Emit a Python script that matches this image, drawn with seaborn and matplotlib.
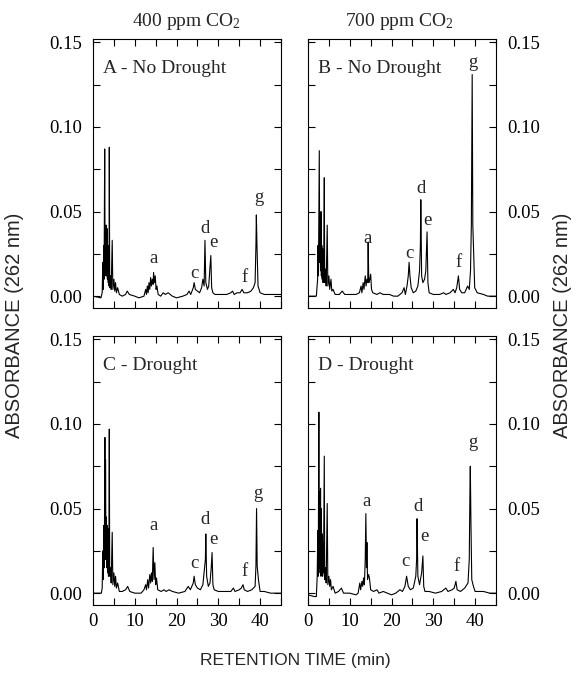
import numpy as np
import pandas as pd
import matplotlib
matplotlib.use("Agg")
import matplotlib.pyplot as plt
import seaborn as sns
from matplotlib.ticker import MultipleLocator

# Chromatogram traces: (retention time in min, absorbance at 262 nm)
trace_a = [
    (0.0, 0.000), (1.9, -0.001), (2.2, 0.002), (2.35, 0.020), (2.45, 0.004), (2.55, 0.030),
    (2.65, 0.010), (2.8, 0.087), (2.9, 0.012), (3.0, 0.040), (3.05, 0.015), (3.15, 0.042),
    (3.25, 0.012), (3.35, 0.040), (3.45, 0.010), (3.55, 0.030), (3.65, 0.008), (3.75, 0.025),
    (3.85, 0.006), (3.9, 0.088), (4.0, 0.005), (4.2, 0.012), (4.35, 0.004), (4.6, 0.033),
    (4.75, 0.004), (5.0, 0.010), (5.2, 0.003), (5.4, 0.008), (5.6, 0.002), (5.9, 0.005),
    (6.3, 0.001), (7.0, 0.000), (7.8, 0.001), (8.2, 0.003), (8.7, 0.001), (10.0, 0.000),
    (11.0, -0.001), (12.2, 0.000), (12.6, 0.004), (12.8, 0.001), (13.0, 0.006), (13.2, 0.002),
    (13.4, 0.008), (13.6, 0.004), (13.8, 0.011), (14.0, 0.006), (14.2, 0.010), (14.4, 0.007),
    (14.5, 0.014), (14.7, 0.008), (14.9, 0.012), (15.1, 0.004), (15.3, 0.006), (15.6, 0.001),
    (16.2, 0.000), (16.8, 0.002), (17.3, 0.001), (18.0, 0.002), (19.0, 0.000), (20.0, -0.001),
    (21.5, 0.000), (22.5, 0.001), (23.0, 0.003), (23.4, 0.001), (24.0, 0.005), (24.2, 0.008),
    (24.5, 0.004), (25.0, 0.003), (25.5, 0.002), (26.0, 0.005), (26.3, 0.010), (26.6, 0.006),
    (26.8, 0.033), (27.0, 0.008), (27.4, 0.004), (27.7, 0.006), (28.0, 0.017), (28.2, 0.024),
    (28.4, 0.005), (28.7, 0.002), (29.2, 0.001), (30.5, 0.001), (32.0, 0.001), (33.0, 0.002),
    (33.4, 0.003), (33.8, 0.001), (34.5, 0.002), (35.2, 0.002), (35.7, 0.004), (36.1, 0.002),
    (37.0, 0.002), (37.8, 0.003), (38.4, 0.005), (38.8, 0.008), (39.0, 0.030), (39.1, 0.048),
    (39.25, 0.030), (39.5, 0.006), (40.0, 0.002), (41.0, 0.001), (43.0, 0.001), (45.0, 0.001),
]

trace_b = [
    (0.0, 0.000), (2.0, 0.000), (2.3, 0.010), (2.4, 0.030), (2.5, 0.012), (2.7, 0.086),
    (2.8, 0.020), (2.9, 0.048), (3.0, 0.015), (3.1, 0.050), (3.2, 0.012), (3.3, 0.030),
    (3.4, 0.010), (3.5, 0.028), (3.6, 0.008), (3.75, 0.015), (3.9, 0.070), (4.0, 0.008),
    (4.2, 0.016), (4.35, 0.006), (4.6, 0.042), (4.75, 0.006), (5.0, 0.012), (5.2, 0.004),
    (5.5, 0.010), (5.7, 0.003), (6.0, 0.004), (6.5, 0.001), (7.5, 0.001), (8.2, 0.003),
    (8.8, 0.001), (10.0, 0.001), (11.5, 0.001), (12.3, 0.002), (12.7, 0.006), (12.9, 0.002),
    (13.2, 0.008), (13.4, 0.004), (13.7, 0.012), (13.9, 0.006), (14.1, 0.010), (14.3, 0.008),
    (14.4, 0.032), (14.55, 0.008), (14.8, 0.010), (15.0, 0.013), (15.2, 0.004), (15.5, 0.002),
    (16.5, 0.001), (17.2, 0.002), (18.0, 0.001), (19.5, 0.001), (20.5, 0.000), (21.5, 0.000),
    (22.5, 0.002), (23.0, 0.005), (23.3, 0.001), (23.7, 0.006), (24.0, 0.012), (24.2, 0.020),
    (24.4, 0.012), (24.7, 0.005), (25.2, 0.002), (25.8, 0.003), (26.3, 0.006), (26.7, 0.015),
    (26.9, 0.030), (27.0, 0.057), (27.2, 0.012), (27.5, 0.008), (27.9, 0.010), (28.2, 0.015),
    (28.5, 0.038), (28.7, 0.008), (29.0, 0.002), (30.0, 0.001), (31.5, 0.001), (32.5, 0.002),
    (33.0, 0.001), (34.0, 0.002), (34.8, 0.004), (35.2, 0.002), (35.6, 0.005), (36.0, 0.012),
    (36.3, 0.004), (36.8, 0.002), (37.5, 0.002), (38.2, 0.006), (38.6, 0.004), (38.9, 0.015),
    (39.1, 0.042), (39.3, 0.131), (39.45, 0.042), (39.6, 0.030), (39.9, 0.005), (40.5, 0.002),
    (42.0, 0.001), (43.0, 0.000), (45.0, 0.000),
]

trace_c = [
    (0.0, 0.000), (2.0, 0.000), (2.2, 0.003), (2.35, 0.025), (2.45, 0.008), (2.6, 0.040),
    (2.7, 0.015), (2.85, 0.092), (2.95, 0.020), (3.0, 0.079), (3.1, 0.020), (3.2, 0.045),
    (3.3, 0.015), (3.4, 0.040), (3.5, 0.012), (3.6, 0.038), (3.7, 0.010), (3.8, 0.020),
    (3.9, 0.097), (4.0, 0.010), (4.2, 0.015), (4.35, 0.006), (4.6, 0.036), (4.75, 0.005),
    (5.0, 0.012), (5.2, 0.004), (5.4, 0.010), (5.6, 0.003), (5.9, 0.006), (6.3, 0.001),
    (7.0, 0.001), (7.8, 0.002), (8.3, 0.004), (8.8, 0.001), (10.0, 0.000), (11.5, 0.000),
    (12.2, 0.002), (12.6, 0.005), (12.8, 0.002), (13.1, 0.008), (13.3, 0.003), (13.6, 0.011),
    (13.8, 0.006), (14.0, 0.012), (14.2, 0.007), (14.4, 0.027), (14.6, 0.008), (14.8, 0.018),
    (15.0, 0.005), (15.2, 0.009), (15.5, 0.002), (16.3, 0.001), (17.0, 0.002), (17.5, 0.001),
    (18.2, 0.002), (19.0, 0.001), (20.5, 0.000), (22.0, 0.001), (22.8, 0.004), (23.3, 0.002),
    (24.0, 0.006), (24.2, 0.010), (24.5, 0.005), (25.0, 0.003), (25.7, 0.002), (26.3, 0.005),
    (26.7, 0.015), (26.9, 0.020), (27.0, 0.035), (27.2, 0.010), (27.6, 0.004), (28.0, 0.006),
    (28.3, 0.015), (28.5, 0.024), (28.7, 0.005), (29.0, 0.002), (30.0, 0.001), (31.5, 0.001),
    (33.0, 0.001), (33.6, 0.003), (34.0, 0.001), (35.0, 0.002), (35.5, 0.003), (35.9, 0.005),
    (36.2, 0.002), (37.0, 0.001), (38.0, 0.002), (38.8, 0.004), (39.0, 0.016), (39.15, 0.050),
    (39.3, 0.016), (39.6, 0.008), (40.0, 0.001), (41.0, 0.001), (42.5, 0.000), (45.0, 0.000),
]

trace_d = [
    (0.0, -0.001), (1.5, -0.002), (2.0, -0.002), (2.2, 0.010), (2.35, 0.037), (2.45, 0.010),
    (2.6, 0.107), (2.7, 0.015), (2.8, 0.060), (2.9, 0.012), (3.0, 0.062), (3.1, 0.010),
    (3.2, 0.050), (3.3, 0.012), (3.4, 0.035), (3.5, 0.010), (3.6, 0.030), (3.7, 0.012),
    (3.9, 0.081), (4.0, 0.008), (4.2, 0.015), (4.35, 0.006), (4.6, 0.053), (4.75, 0.005),
    (5.0, 0.010), (5.2, 0.004), (5.4, 0.008), (5.6, 0.002), (6.0, 0.004), (6.5, 0.000),
    (7.3, 0.001), (8.0, 0.003), (8.5, 0.000), (10.0, 0.000), (11.5, -0.001), (12.0, 0.000),
    (12.4, 0.006), (12.6, 0.002), (12.9, 0.007), (13.1, 0.004), (13.3, 0.009), (13.5, 0.005),
    (13.7, 0.020), (13.85, 0.047), (14.0, 0.015), (14.1, 0.030), (14.25, 0.008), (14.5, 0.011),
    (14.7, 0.009), (15.0, 0.002), (15.7, 0.001), (16.5, 0.002), (17.0, 0.000), (18.0, 0.001),
    (19.0, 0.000), (20.0, -0.001), (21.0, 0.000), (22.0, 0.002), (22.6, 0.001), (23.2, 0.004),
    (23.6, 0.010), (24.0, 0.004), (24.5, 0.002), (25.2, 0.003), (25.8, 0.010), (26.0, 0.020),
    (26.1, 0.044), (26.3, 0.010), (26.7, 0.005), (27.2, 0.012), (27.5, 0.022), (27.7, 0.004),
    (28.0, 0.001), (29.0, 0.001), (30.5, 0.000), (32.0, 0.001), (33.0, 0.003), (33.5, 0.001),
    (34.5, 0.002), (35.0, 0.003), (35.4, 0.007), (35.7, 0.002), (36.5, 0.001), (37.5, 0.003),
    (38.3, 0.006), (38.6, 0.020), (38.75, 0.058), (38.85, 0.075), (39.0, 0.042), (39.2, 0.008),
    (39.6, 0.004), (40.0, 0.001), (42.0, 0.001), (43.5, 0.000), (45.0, 0.000),
]

# peak letters: (letter, time, absorbance of label centre)
peaks_a = [("a", 14.4, 0.0225), ("c", 24.2, 0.0136), ("d", 26.8, 0.040),
           ("e", 28.9, 0.0315), ("f", 36.2, 0.0112), ("g", 39.7, 0.0585)]
peaks_b = [("a", 14.3, 0.034), ("c", 24.2, 0.025), ("d", 27.0, 0.0635),
           ("e", 28.5, 0.0447), ("f", 36.0, 0.0197), ("g", 39.5, 0.138)]
peaks_c = [("a", 14.4, 0.040), ("c", 24.2, 0.0178), ("d", 26.8, 0.0434),
           ("e", 28.9, 0.0316), ("f", 36.2, 0.0128), ("g", 39.5, 0.059)]
peaks_d = [("a", 14.0, 0.054), ("c", 23.4, 0.0187), ("d", 26.4, 0.051),
           ("e", 27.8, 0.0335), ("f", 35.6, 0.0158), ("g", 39.4, 0.0888)]

panel_titles = ["A - No Drought", "B - No Drought", "C - Drought", "D - Drought"]
column_titles = ["400 ppm CO$_2$", "700 ppm CO$_2$"]

sns.set_theme(style="ticks")
plt.rcParams["font.family"] = ["Liberation Serif", "DejaVu Serif"]
plt.rcParams["mathtext.fontset"] = "custom"
plt.rcParams["mathtext.rm"] = "Liberation Serif"
plt.rcParams["mathtext.it"] = "Liberation Serif"

fig = plt.figure(figsize=(5.76, 6.75), dpi=100)

# axes rectangles in figure fractions
lefts = [93 / 576, 308 / 576]
bottoms = [1 - 308 / 675, 1 - 605 / 675]
w = 188 / 576
h = 269 / 675

traces = [trace_a, trace_b, trace_c, trace_d]
peaks = [peaks_a, peaks_b, peaks_c, peaks_d]

for i in range(4):
    row, col = divmod(i, 2)
    ax = fig.add_axes([lefts[col], bottoms[row], w, h])
    df = pd.DataFrame(traces[i], columns=["time", "absorbance"])
    sns.lineplot(data=df, x="time", y="absorbance", ax=ax, color="black",
                 lw=0.8, sort=False, estimator=None)
    ax.set_xlim(0, 45)
    ax.set_ylim(-0.007, 0.152)
    ax.xaxis.set_major_locator(MultipleLocator(10))
    ax.xaxis.set_minor_locator(MultipleLocator(5))
    ax.yaxis.set_major_locator(MultipleLocator(0.05))
    ax.yaxis.set_minor_locator(MultipleLocator(0.025))
    ax.tick_params(which="both", direction="in", length=5, width=0.8,
                   top=True, right=True, labelsize=13.5, colors="black")
    ax.tick_params(axis="y", pad=8)
    ax.tick_params(axis="x", pad=6)
    ax.yaxis.set_major_formatter(plt.FormatStrFormatter("%.2f"))
    if row == 0:
        ax.tick_params(labelbottom=False)
    if col == 1:
        ax.tick_params(labelleft=False, labelright=True)
    for s in ax.spines.values():
        s.set_linewidth(0.8)
        s.set_color("black")
    ax.set_xlabel("")
    ax.set_ylabel("")
    ax.text(2.3, 0.1345, panel_titles[i], fontsize=14, ha="left", va="center")
    for letter, t, a in peaks[i]:
        ax.text(t, a, letter, fontsize=13.5, ha="center", va="center")

fig.text(187 / 576, 1 - 22 / 675, column_titles[0], fontsize=14, ha="center", va="center")
fig.text(400 / 576, 1 - 22 / 675, column_titles[1], fontsize=14, ha="center", va="center")

fig.text(15 / 576, 1 - 325 / 675, "ABSORBANCE (262 nm)", rotation=90, ha="center", va="center",
         fontsize=14.5, family="Liberation Sans")
fig.text(562 / 576, 1 - 325 / 675, "ABSORBANCE (262 nm)", rotation=90, ha="center", va="center",
         fontsize=14.5, family="Liberation Sans")
fig.text(295 / 576, 1 - 660 / 675, "RETENTION TIME (min)", ha="center", va="center",
         fontsize=12.5, family="Liberation Sans")

fig.savefig("out.png", dpi=100)
